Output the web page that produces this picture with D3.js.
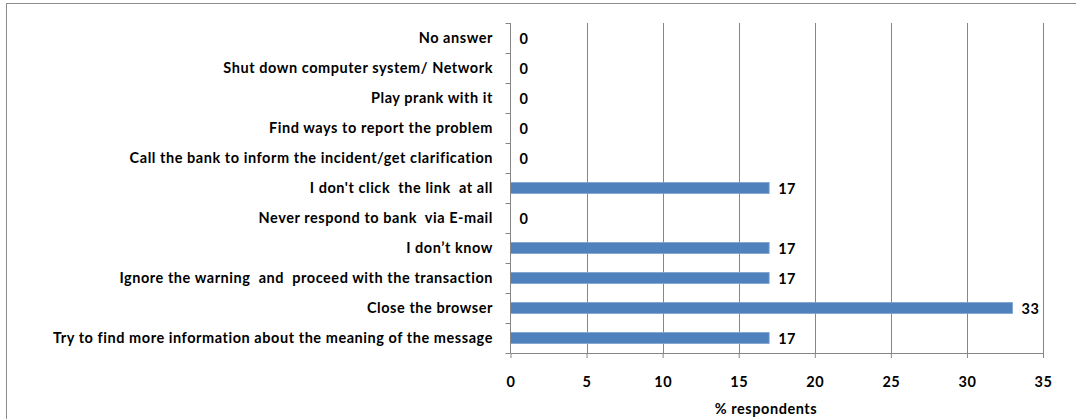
<!DOCTYPE html>
<html><head><meta charset="utf-8">
<script src="https://cdn.jsdelivr.net/npm/d3@7"></script>
<style>
body{margin:0;background:#fff;}
svg{display:block;font-family:Lato,"Open Sans",sans-serif;font-weight:bold;}
</style></head>
<body>
<svg id="chart" width="1076" height="419"></svg>
<script>
const categories = [
  "No answer",
  "Shut down computer system/ Network",
  "Play prank with it",
  "Find ways to report the problem",
  "Call the bank to inform the incident/get clarification",
  "I don't click  the link  at all",
  "Never respond to bank  via E-mail",
  "I don\u2019t know",
  "Ignore the warning  and  proceed with the transaction",
  "Close the browser",
  "Try to find more information about the meaning of the message"
];
const values = [0, 0, 0, 0, 0, 17, 0, 17, 17, 33, 17];
const xTicks = [0, 5, 10, 15, 20, 25, 30, 35];
const xTitle = "% respondents";

const svg = d3.select("#chart");
const m = {left: 510.5, right: 1043, top: 23, bottom: 353};
const FS = 14.5, LS = 0.55;

// outer border
svg.append("rect").attr("x", 6.5).attr("y", 3.5).attr("width", 1100).attr("height", 500)
  .attr("fill", "none").attr("stroke", "#8c8c8c").attr("stroke-width", 1);

const x = d3.scaleLinear().domain([0, 35]).range([m.left, m.right]);
const y = d3.scaleBand().domain(categories).range([m.top, m.bottom]).paddingInner(0.63).paddingOuter(0.315);

// gridlines
svg.append("g").selectAll("line").data(xTicks.slice(1)).join("line")
  .attr("x1", d => Math.round(x(d)) + 0.5).attr("x2", d => Math.round(x(d)) + 0.5)
  .attr("y1", m.top).attr("y2", m.bottom)
  .attr("stroke", "#868686").attr("stroke-width", 1);

// bars
svg.append("g").selectAll("rect").data(values).join("rect")
  .attr("x", x(0)).attr("y", (d, i) => y(categories[i]))
  .attr("width", d => x(d) - x(0)).attr("height", y.bandwidth())
  .attr("fill", "#4f81bd").attr("stroke", "#7ea3d1").attr("stroke-width", d => d > 0 ? 0.8 : 0);

// x axis
const xAxis = d3.axisBottom(x).tickValues(xTicks).tickSize(5).tickPadding(19).tickFormat(d3.format("d"));
const gx = svg.append("g").attr("transform", `translate(0,${m.bottom})`).call(xAxis);
gx.select(".domain").attr("stroke", "#868686").attr("d", `M${m.left},0.5H${m.right}`);
gx.selectAll(".tick line").attr("stroke", "#868686");
gx.selectAll(".tick text").attr("font-size", FS).attr("fill", "#000").attr("font-family", "Lato, sans-serif")
  .attr("font-weight", "bold").attr("letter-spacing", LS);

// y axis
const yTickPos = d3.range(categories.length + 1).map(i => m.top + i * (m.bottom - m.top) / categories.length);
const ya = svg.append("g");
ya.append("line").attr("x1", m.left).attr("x2", m.left).attr("y1", m.top).attr("y2", m.bottom).attr("stroke", "#868686");
ya.selectAll("line.t").data(yTickPos).join("line").attr("class", "t")
  .attr("x1", m.left - 5).attr("x2", m.left).attr("y1", d => Math.round(d) + 0.5).attr("y2", d => Math.round(d) + 0.5)
  .attr("stroke", "#868686");
ya.selectAll("text").data(categories).join("text")
  .attr("x", 493).attr("y", d => y(d) + y.bandwidth() / 2).attr("dy", "0.35em")
  .attr("text-anchor", "end").attr("font-size", FS).attr("letter-spacing", LS).attr("fill", "#000")
  .style("white-space", "pre").text(d => d);

// value labels
svg.append("g").selectAll("text").data(values).join("text")
  .attr("x", d => x(d) + 9).attr("y", (d, i) => y(categories[i]) + y.bandwidth() / 2).attr("dy", "0.38em")
  .attr("font-size", FS).attr("letter-spacing", LS).attr("fill", "#000").text(d => d);

// x title
svg.append("text").attr("x", 766).attr("y", 414).attr("text-anchor", "middle")
  .attr("font-size", FS).attr("letter-spacing", LS).attr("fill", "#000").text(xTitle);
</script>
</body></html>
